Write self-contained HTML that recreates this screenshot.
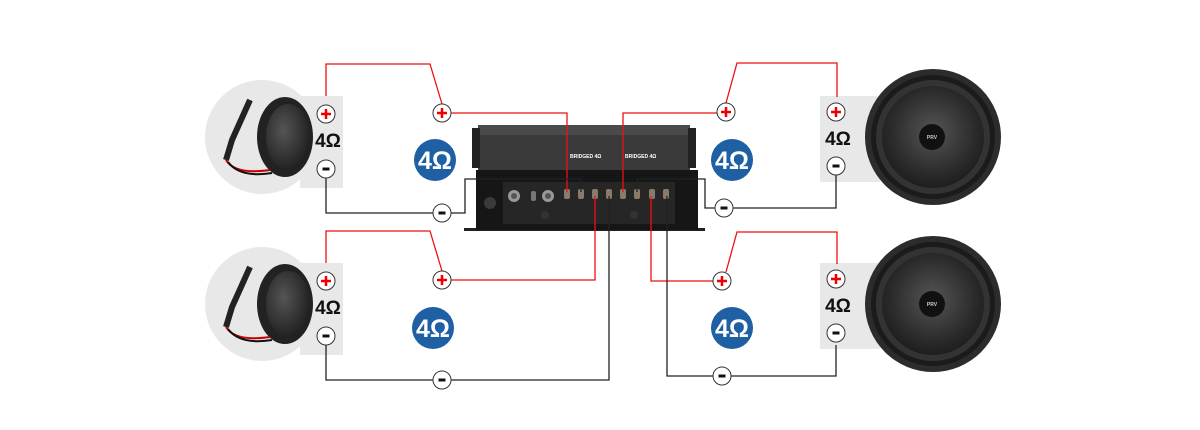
<!DOCTYPE html>
<html><head><meta charset="utf-8"><style>
html,body{margin:0;padding:0;background:#fff;width:1200px;height:430px;overflow:hidden}
text{font-family:"Liberation Sans",sans-serif;font-weight:bold}
</style></head><body>
<svg width="1200" height="430" viewBox="0 0 1200 430" xmlns="http://www.w3.org/2000/svg">
<defs>
<radialGradient id="tw" cx="0.4" cy="0.4" r="0.7"><stop offset="0" stop-color="#555"/><stop offset="1" stop-color="#1a1a1a"/></radialGradient>
<radialGradient id="cone" cx="0.5" cy="0.45" r="0.6"><stop offset="0" stop-color="#555"/><stop offset="0.7" stop-color="#2a2a2a"/><stop offset="1" stop-color="#1a1a1a"/></radialGradient>
<g id="tweeter">
<circle cx="262" cy="137" r="57" fill="#e8e8e8"/>
<rect x="300" y="96" width="43" height="92" fill="#e8e8e8"/>
<ellipse cx="285" cy="137" rx="28" ry="40" fill="#222"/>
<ellipse cx="288" cy="137" rx="22" ry="33" fill="url(#tw)"/>
<path d="M250 100 L232 140 L226 160" stroke="#222" stroke-width="6" fill="none"/>
<path d="M226 160 Q235 175 270 170" stroke="#c00" stroke-width="2" fill="none"/>
<path d="M228 162 Q240 178 272 173" stroke="#111" stroke-width="2" fill="none"/>
</g>
<g id="woofer">
<rect x="820" y="96" width="60" height="86" fill="#e8e8e8"/>
<circle cx="933" cy="137" r="68" fill="#2c2c2c"/>
<circle cx="933" cy="137" r="62" fill="#1b1b1b"/>
<circle cx="933" cy="137" r="57" fill="#333"/>
<circle cx="933" cy="137" r="51" fill="url(#cone)"/>
<circle cx="932" cy="137" r="13" fill="#111"/>
<text x="932" y="139" font-size="5" fill="#ccc" text-anchor="middle">PRV</text>
</g>
<g id="plus"><circle r="9" fill="#fff" stroke="#333" stroke-width="1"/><path d="M-5 0H5M0 -5V5" stroke="#e00" stroke-width="2.5"/></g>
<g id="minus"><circle r="9" fill="#fff" stroke="#333" stroke-width="1"/><path d="M-3.5 0H3.5" stroke="#111" stroke-width="3"/></g>
<g id="ohm"><circle r="21" fill="#1f5fa3"/><text y="9" font-size="25" fill="#fff" text-anchor="middle">4Ω</text></g>
</defs>

<use href="#tweeter"/>
<use href="#tweeter" y="167"/>
<use href="#woofer"/>
<use href="#woofer" y="167"/>

<!-- amp -->
<rect x="478" y="125" width="212" height="47" fill="#3a3a3a"/>
<rect x="478" y="125" width="212" height="10" fill="#4a4a4a"/>
<rect x="472" y="128" width="8" height="40" fill="#222"/>
<rect x="688" y="128" width="8" height="40" fill="#222"/>
<text x="488" y="175" font-size="4" fill="#ccc">POWER</text>
<text x="570" y="158" font-size="5" fill="#fff">BRIDGED 4Ω</text>
<text x="625" y="158" font-size="5" fill="#fff">BRIDGED 4Ω</text>
<rect x="464" y="228" width="241" height="3" fill="#222"/>
<rect x="476" y="170" width="222" height="60" fill="#161616"/>
<rect x="503" y="182" width="172" height="42" fill="#262626"/>
<circle cx="490" cy="203" r="6" fill="#3a3a3a"/>
<circle cx="514" cy="196" r="6" fill="#999"/><circle cx="514" cy="196" r="3" fill="#555"/>
<circle cx="548" cy="196" r="6" fill="#999"/><circle cx="548" cy="196" r="3" fill="#555"/>
<rect x="531" y="191" width="5" height="10" rx="2" fill="#777"/>
<g fill="#8a7a6a">
<rect x="564" y="189" width="6" height="10" rx="2"/><rect x="578" y="189" width="6" height="10" rx="2"/>
<rect x="592" y="189" width="6" height="10" rx="2"/><rect x="606" y="189" width="6" height="10" rx="2"/>
<rect x="620" y="189" width="6" height="10" rx="2"/><rect x="634" y="189" width="6" height="10" rx="2"/>
<rect x="649" y="189" width="6" height="10" rx="2"/><rect x="663" y="189" width="6" height="10" rx="2"/>
</g>
<circle cx="545" cy="215" r="4" fill="#333"/><circle cx="634" cy="215" r="4" fill="#333"/>

<g fill="none" stroke-width="1.3">
<!-- top left -->
<path d="M326 96V64H430L442 104" stroke="#e11"/>
<path d="M451 113H567V192" stroke="#e11"/>
<path d="M326 178V213H433" stroke="#222"/>
<path d="M451 213H465V179H581V192" stroke="#222"/>
<!-- top right -->
<path d="M837 97V63H737L726 103" stroke="#e11"/>
<path d="M717 113H623V192" stroke="#e11"/>
<path d="M836 175V208H733" stroke="#222"/>
<path d="M715 208H705V179H637V192" stroke="#222"/>
<!-- bottom left -->
<path d="M326 263V231H430L442 271" stroke="#e11"/>
<path d="M451 280H595V196" stroke="#e11"/>
<path d="M326 345V380H433" stroke="#222"/>
<path d="M451 380H609V196" stroke="#222"/>
<!-- bottom right -->
<path d="M837 264V232H737L726 272" stroke="#e11"/>
<path d="M713 281H651V196" stroke="#e11"/>
<path d="M836 345V376H731" stroke="#222"/>
<path d="M713 376H667V196" stroke="#222"/>
</g>

<use href="#plus" x="326" y="114"/><use href="#minus" x="326" y="169"/>
<use href="#plus" x="326" y="281"/><use href="#minus" x="326" y="336"/>
<use href="#plus" x="836" y="112"/><use href="#minus" x="836" y="166"/>
<use href="#plus" x="836" y="279"/><use href="#minus" x="836" y="333"/>
<use href="#plus" x="442" y="113"/><use href="#minus" x="442" y="213"/>
<use href="#plus" x="442" y="280"/><use href="#minus" x="442" y="380"/>
<use href="#plus" x="726" y="112"/><use href="#minus" x="724" y="208"/>
<use href="#plus" x="722" y="281"/><use href="#minus" x="722" y="376"/>

<text x="328" y="147" font-size="19" fill="#111" text-anchor="middle">4Ω</text>
<text x="328" y="314" font-size="19" fill="#111" text-anchor="middle">4Ω</text>
<text x="838" y="145" font-size="19" fill="#111" text-anchor="middle">4Ω</text>
<text x="838" y="312" font-size="19" fill="#111" text-anchor="middle">4Ω</text>

<use href="#ohm" x="435" y="160"/>
<use href="#ohm" x="732" y="160"/>
<use href="#ohm" x="433" y="328"/>
<use href="#ohm" x="732" y="328"/>
</svg>
</body></html>
